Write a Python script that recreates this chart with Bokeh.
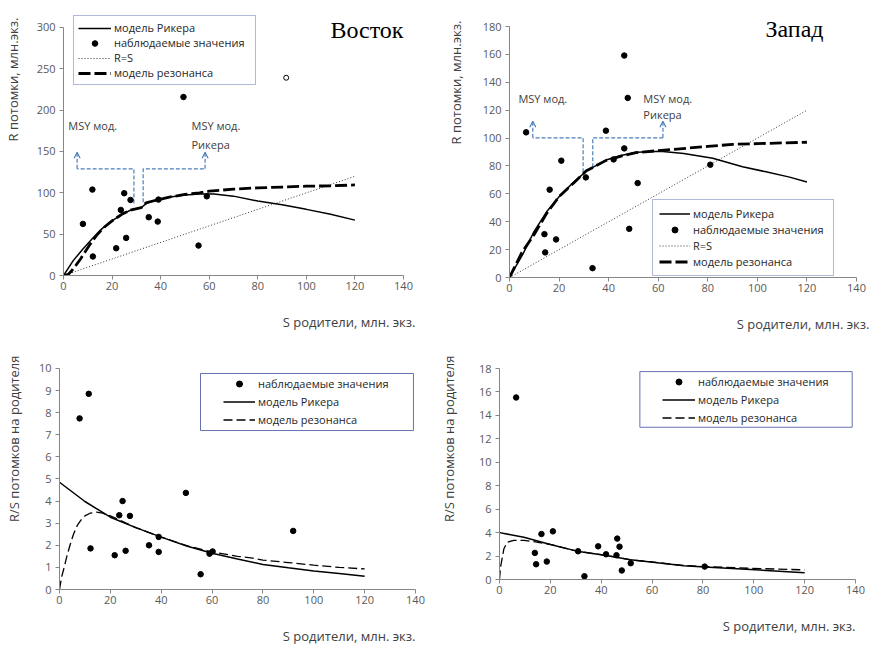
import math
from bokeh.plotting import figure
from bokeh.layouts import column, row
from bokeh.models import (Range1d, Label, Legend, LegendItem, Arrow, OpenHead,
                          BoxAnnotation, FixedTicker, Title)
from bokeh.embed import file_html
from bokeh.resources import INLINE

# ---------------- data ----------------
x_ticks = [0, 20, 40, 60, 80, 100, 120, 140]
east_R_ticks = [0, 50, 100, 150, 200, 250, 300]
west_R_ticks = [0, 20, 40, 60, 80, 100, 120, 140, 160, 180]
east_RS_ticks = [0, 1, 2, 3, 4, 5, 6, 7, 8, 9, 10]
west_RS_ticks = [0, 2, 4, 6, 8, 10, 12, 14, 16, 18]

# Восток (East): stock-recruitment
east_S_obs = [8.0, 11.9, 12.1, 21.7, 23.6, 25.0, 25.8, 27.6, 35.1, 38.8, 39.1, 49.4, 55.6, 59.0]
east_R_obs = [62.4, 103.9, 23.0, 33.0, 79.3, 99.5, 45.5, 91.4, 70.5, 65.2, 91.8, 215.9, 36.2, 95.8]
east_S_open = [91.7]
east_R_open = [239.2]
east_ricker_S = [0, 4, 8, 12, 16, 20, 24, 28, 32, 34, 38, 44, 50, 56, 62, 70, 80, 90, 100, 110, 120]
east_ricker_R = [0, 18, 32, 45, 57, 66, 74, 79.5, 82, 87, 91, 95, 97.5, 98.5, 98.5, 96, 90, 85.5, 80, 74, 67]
east_res_S = [0, 2, 3, 5, 7, 9, 11, 14, 17, 20, 24, 28, 32, 34, 38, 44, 50, 56, 60, 70, 80, 90, 100, 110, 120]
east_res_R = [0, 1.5, 4.5, 12, 20, 29, 38, 50, 59, 66, 74, 79.5, 82, 88, 91, 95, 98, 100, 102, 104.5, 106, 107, 108, 108.5, 109.5]
east_line_RS = [0, 120]
east_msy_left_S = [29.0, 29.0, 5.6]
east_msy_left_R = [87, 129, 129]
east_msy_right_S = [32.8, 32.8, 58.3]
east_msy_right_R = [88.7, 129, 129]
east_msy_arrow_top = 149

# Восток: recruits per spawner
east_rs_S_obs = [7.9, 11.5, 12.2, 21.7, 23.5, 24.8, 26.0, 27.7, 35.2, 39.0, 39.0, 49.7, 55.5, 59.0, 60.2, 91.9]
east_rs_obs = [7.74, 8.85, 1.86, 1.55, 3.36, 4.0, 1.75, 3.33, 2.0, 1.7, 2.38, 4.37, 0.69, 1.62, 1.72, 2.65]
east_rs_ricker_S = [0, 10, 20, 30, 40, 50, 60, 70, 80, 90, 100, 110, 120]
east_rs_ricker = [4.85, 3.98, 3.27, 2.8, 2.37, 1.97, 1.64, 1.38, 1.13, 0.98, 0.84, 0.72, 0.6]
east_rs_res_S = [0, 0.8, 1.7, 3, 4.3, 5.5, 7, 8.5, 10, 12, 14.5, 17, 20, 30, 40, 50, 60, 70, 76, 80, 90, 100, 110, 120]
east_rs_res = [0, 0.55, 0.94, 1.55, 2.07, 2.5, 2.9, 3.15, 3.33, 3.45, 3.5, 3.45, 3.33, 2.8, 2.37, 1.98, 1.7, 1.5, 1.42, 1.33, 1.22, 1.1, 1.0, 0.93]

# Запад (West): stock-recruitment
west_S_obs = [6.7, 14.1, 14.4, 16.2, 18.8, 20.9, 30.8, 33.5, 38.9, 42.0, 46.3, 46.3, 47.7, 48.3, 51.7, 81.0]
west_R_obs = [104.1, 31.1, 18.0, 63.0, 27.3, 83.8, 71.8, 6.7, 105.3, 84.7, 159.2, 92.6, 128.8, 34.9, 67.7, 80.9]
west_ricker_S = [0, 5.4, 9.7, 15.3, 20.5, 25.8, 31.2, 39.3, 45, 51.4, 60.8, 70.3, 82, 94, 103, 113, 120]
west_ricker_R = [0, 16.8, 32.3, 47.9, 59, 68.2, 76.6, 84.5, 87.5, 89.8, 90.5, 89, 85.5, 79.5, 76, 72, 68.5]
west_res_S = [0, 5, 10, 15, 20, 26, 31, 39, 45, 51, 60, 70, 80, 90, 100, 110, 120]
west_res_R = [0, 18, 31, 46, 58, 68, 76.5, 84, 87, 89.5, 91, 92.5, 94, 95.5, 96, 96.5, 97]
west_line_RS = [0, 120]
west_msy_left_S = [29.7, 29.7, 9.4]
west_msy_left_R = [75.5, 100.2, 100.2]
west_msy_right_S = [33.6, 33.6, 61.9]
west_msy_right_R = [79, 100.2, 100.2]
west_msy_arrow_top = 112

# Запад: recruits per spawner
west_rs_S_obs = [6.55, 13.9, 14.4, 16.5, 18.6, 21.0, 30.9, 33.4, 38.8, 41.9, 46.3, 46.0, 47.2, 48.1, 51.6, 80.7]
west_rs_obs = [15.53, 2.27, 1.3, 3.88, 1.53, 4.11, 2.41, 0.28, 2.83, 2.15, 3.49, 2.07, 2.8, 0.77, 1.39, 1.1]
west_rs_ricker_S = [0, 9.6, 20, 30.5, 42, 51.5, 59.4, 72.5, 80.7, 98.7, 120]
west_rs_ricker = [4.0, 3.6, 2.99, 2.42, 2.05, 1.68, 1.5, 1.17, 1.06, 0.85, 0.57]
west_rs_res_S = [0, 0.4, 1.0, 1.7, 3.0, 5.6, 9.6, 13.5, 20, 30.5, 42, 52, 60, 72, 81, 99, 120]
west_rs_res = [0, 1.05, 1.76, 2.6, 3.18, 3.33, 3.33, 3.24, 2.99, 2.42, 2.05, 1.66, 1.5, 1.2, 1.1, 0.95, 0.82]

# ---------------- style ----------------
FONT = "Open Sans"
AXC = "#868686"
TXT = "#595959"
TITC = "#404040"
LTXT = "#262626"
BLUE = "#4A7EBB"
LEGC = "#6672B2"


def make_fig(w, h, left, right, top, bottom, xmax, ymax, ybound, yticks, xpad, ypad):
    p = figure(width=w, height=h, output_backend="svg", toolbar_location=None,
               x_range=Range1d(0, xmax), y_range=Range1d(0, ymax),
               min_border_left=left, min_border_right=right,
               min_border_top=top, min_border_bottom=bottom)
    p.title.visible = False
    p.grid.visible = False
    p.outline_line_color = None
    p.background_fill_color = "white"
    p.border_fill_color = "white"
    p.xaxis.ticker = FixedTicker(ticks=x_ticks)
    p.yaxis.ticker = FixedTicker(ticks=yticks)
    p.xaxis.bounds = (0, 140)
    p.yaxis.bounds = (0, ybound)
    for ax in (p.xaxis[0], p.yaxis[0]):
        ax.axis_line_color = AXC
        ax.axis_line_width = 1
        ax.major_tick_line_color = AXC
        ax.major_tick_out = 4
        ax.major_tick_in = 0
        ax.minor_tick_line_color = None
        ax.major_label_text_font = FONT
        ax.major_label_text_font_size = "11px"
        ax.major_label_text_color = TXT
        # invisible spacer label, pushes the side titles outward
        ax.axis_label = " "
        ax.axis_label_text_font_size = "1px"
    p.xaxis.axis_label_standoff = xpad
    p.yaxis.axis_label_standoff = ypad
    p.xaxis.major_label_standoff = 2
    p.yaxis.major_label_standoff = 4
    return p


def txt(p, x, y, s, size="11px", align="left", baseline="middle", angle=0.0,
        font=FONT, color=TITC):
    p.add_layout(Label(x=x, y=y, text=s, text_font=font, text_font_size=size,
                       text_align=align, text_baseline=baseline, angle=angle,
                       text_color=color))


def side_title(p, text, side, offset):
    p.add_layout(Title(text=text, align="right", offset=offset, standoff=2,
                       vertical_align="middle",
                       text_font=FONT, text_font_size="13px", text_font_style="normal",
                       text_color=TITC), side)


def msy(p, xs1, ys1, xs2, ys2, top):
    for xs, ys in ((xs1, ys1), (xs2, ys2)):
        p.line(xs, ys, line_color=BLUE, line_width=1.2, line_dash="4 2")
        p.add_layout(Arrow(end=OpenHead(size=6, line_color=BLUE, line_width=1.2),
                           x_start=xs[-1], y_start=ys[-1], x_end=xs[-1], y_end=top,
                           line_color=BLUE, line_width=1.2, line_dash="4 2"))


X_TITLE = "S родители, млн. экз."

# ---------------- top-left: Восток ----------------
p1 = make_fig(435, 333, 63, 20, 4, 58, 144.94, 327.8, 300, east_R_ticks, 14, 6)
r1_rs = p1.line(east_line_RS, east_line_RS, line_color="black", line_width=0.8, line_dash="1 2")
msy(p1, east_msy_left_S, east_msy_left_R, east_msy_right_S, east_msy_right_R, east_msy_arrow_top)
r1_res = p1.line(east_res_S, east_res_R, line_color="black", line_width=2.8, line_dash="12 4")
r1_ric = p1.line(east_ricker_S, east_ricker_R, line_color="black", line_width=1.5)
r1_obs = p1.scatter(east_S_obs, east_R_obs, size=5.5, color="black")
p1.scatter(east_S_open, east_R_open, size=5, fill_color="white", line_color="black", line_width=1)
txt(p1, 2.0, 182, "MSY мод.")
txt(p1, 52.7, 182, "MSY мод.")
txt(p1, 52.7, 159, "Рикера")
txt(p1, 140, 297, "Восток", size="24px", align="right", baseline="alphabetic",
    font="Liberation Serif", color="black")
side_title(p1, "R потомки, млн.экз.", "left", 13)
side_title(p1, X_TITLE, "below", 0)
leg1 = Legend(items=[LegendItem(label="модель Рикера", renderers=[r1_ric]),
                     LegendItem(label="наблюдаемые значения", renderers=[r1_obs]),
                     LegendItem(label="R=S", renderers=[r1_rs]),
                     LegendItem(label="модель резонанса", renderers=[r1_res])],
              location=(10, 190), margin=0, padding=4, spacing=0,
              glyph_width=33, glyph_height=14, label_height=14, label_width=137,
              label_standoff=3, border_line_color=LEGC, border_line_width=1,
              background_fill_color="white", background_fill_alpha=1,
              label_text_font=FONT, label_text_font_size="11px", label_text_color=LTXT)
p1.add_layout(leg1)

# ---------------- top-right: Запад ----------------
p2 = make_fig(435, 335, 74, 1, 4, 58, 145.24, 195.8, 180, west_R_ticks, 14, 9)
r2_rs = p2.line(west_line_RS, west_line_RS, line_color="black", line_width=0.8, line_dash="1 2")
msy(p2, west_msy_left_S, west_msy_left_R, west_msy_right_S, west_msy_right_R, west_msy_arrow_top)
r2_res = p2.line(west_res_S, west_res_R, line_color="black", line_width=2.8, line_dash="12 4")
r2_ric = p2.line(west_ricker_S, west_ricker_R, line_color="black", line_width=1.5)
r2_obs = p2.scatter(west_S_obs, west_R_obs, size=5.5, color="black")
txt(p2, 3.6, 128.4, "MSY мод.")
txt(p2, 54, 128.4, "MSY мод.")
txt(p2, 54, 116.9, "Рикера")
txt(p2, 126.7, 178, "Запад", size="24px", align="right", baseline="alphabetic",
    font="Liberation Serif", color="black")
side_title(p2, "R потомки, млн.экз.", "left", 16)
side_title(p2, X_TITLE, "below", 0)
leg2 = Legend(items=[LegendItem(label="модель Рикера", renderers=[r2_ric]),
                     LegendItem(label="наблюдаемые значения", renderers=[r2_obs]),
                     LegendItem(label="R=S", renderers=[r2_rs]),
                     LegendItem(label="модель резонанса", renderers=[r2_res])],
              location=(143, 1), margin=0, padding=6, spacing=1,
              glyph_width=31, glyph_height=15, label_height=15, label_width=134,
              label_standoff=3, border_line_color=LEGC, border_line_width=1,
              background_fill_color="white", background_fill_alpha=1,
              label_text_font=FONT, label_text_font_size="11px", label_text_color=LTXT)
p2.add_layout(leg2)

# ---------------- bottom-left: Восток R/S ----------------
p3 = make_fig(435, 311, 59, 20, 15, 57, 140, 10.81, 10, east_RS_ticks, 14, 7)
r3_res = p3.line(east_rs_res_S, east_rs_res, line_color="black", line_width=1.3, line_dash="9 4")
r3_ric = p3.line(east_rs_ricker_S, east_rs_ricker, line_color="black", line_width=1.5)
r3_obs = p3.scatter(east_rs_S_obs, east_rs_obs, size=5.5, color="black")
side_title(p3, "R/S потомков на родителя", "left", 5)
side_title(p3, X_TITLE, "below", 0)
p3.add_layout(BoxAnnotation(left=55.45, right=139.2, bottom=7.19, top=9.77,
                            fill_alpha=0, line_color=LEGC, line_width=1, line_alpha=1))
leg3 = Legend(items=[LegendItem(label="наблюдаемые значения", renderers=[r3_obs]),
                     LegendItem(label="модель Рикера", renderers=[r3_ric]),
                     LegendItem(label="модель резонанса", renderers=[r3_res])],
              location=(162, 160), margin=0, padding=2, spacing=3,
              glyph_width=32, glyph_height=15, label_height=15,
              label_standoff=3, border_line_alpha=0, background_fill_alpha=0,
              label_text_font=FONT, label_text_font_size="11px", label_text_color=LTXT)
p3.add_layout(leg3)

# ---------------- bottom-right: Запад R/S ----------------
p4 = make_fig(435, 301, 64, 15, 15, 57, 140, 19.54, 18, west_RS_ticks, 14, 12)
r4_res = p4.line(west_rs_res_S, west_rs_res, line_color="black", line_width=1.3, line_dash="9 4")
r4_ric = p4.line(west_rs_ricker_S, west_rs_ricker, line_color="black", line_width=1.5)
r4_obs = p4.scatter(west_rs_S_obs, west_rs_obs, size=5.5, color="black")
side_title(p4, "R/S потомков на родителя", "left", 5)
side_title(p4, X_TITLE, "below", 0)
p4.add_layout(BoxAnnotation(left=55.2, right=138.7, bottom=12.99, top=17.74,
                            fill_alpha=0, line_color=LEGC, line_width=1, line_alpha=1))
leg4 = Legend(items=[LegendItem(label="наблюдаемые значения", renderers=[r4_obs]),
                     LegendItem(label="модель Рикера", renderers=[r4_ric]),
                     LegendItem(label="модель резонанса", renderers=[r4_res])],
              location=(161, 152), margin=0, padding=2, spacing=3,
              glyph_width=33, glyph_height=15, label_height=15,
              label_standoff=3, border_line_alpha=0, background_fill_alpha=0,
              label_text_font=FONT, label_text_font_size="11px", label_text_color=LTXT)
p4.add_layout(leg4)

layout = column(row(p1, p2), row(p3, p4))
open("out.html", "w").write(file_html(layout, INLINE))
